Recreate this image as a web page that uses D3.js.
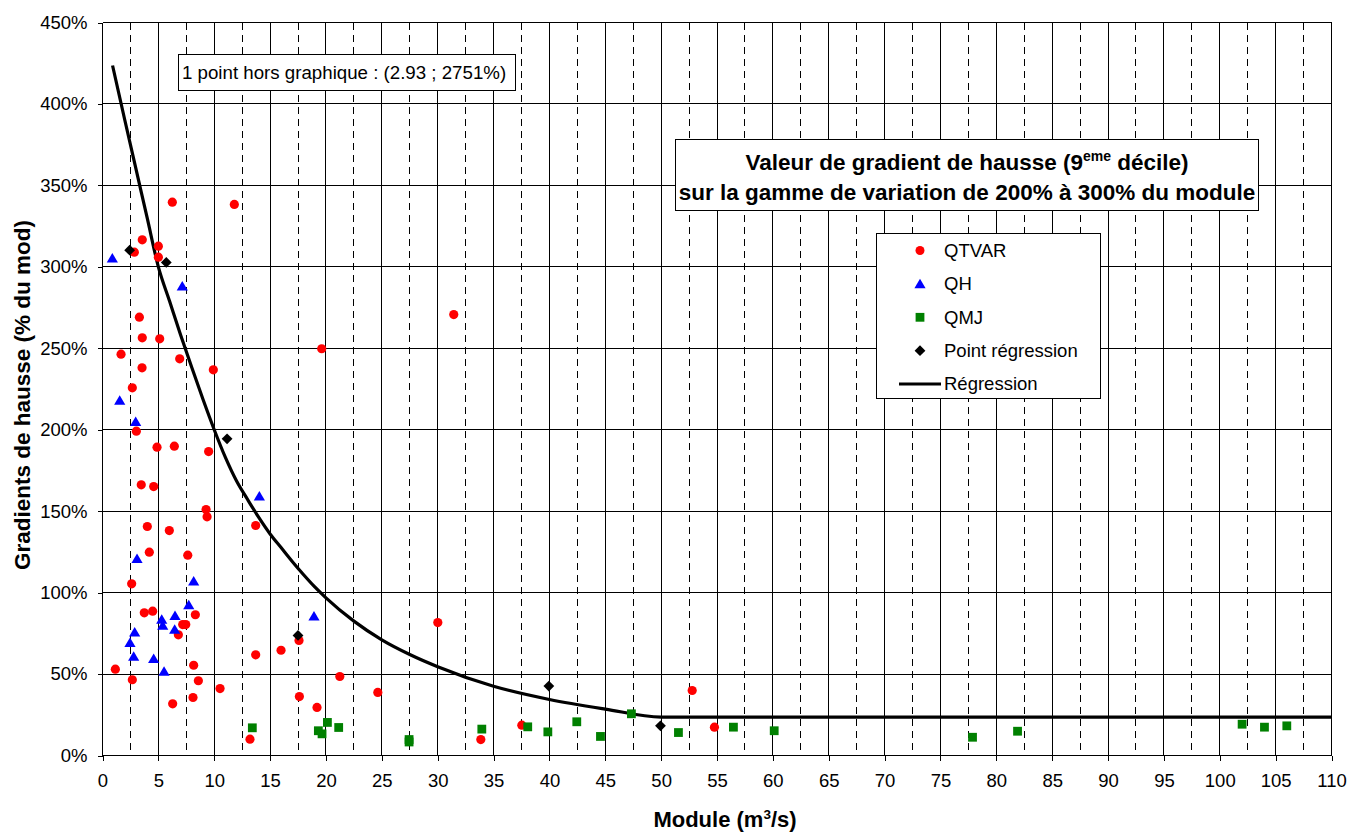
<!DOCTYPE html>
<html>
<head>
<meta charset="utf-8">
<script src="https://cdn.jsdelivr.net/npm/d3@7"></script>
<style>
  html, body { margin: 0; padding: 0; background: #fff; }
  svg { display: block; font-family: "Liberation Sans", Arial, sans-serif; }
</style>
</head>
<body>
<svg id="chart" width="1350" height="833"></svg>
<script>
// Module (m3/s) and gradient (% du module) for each flow source
const qtvarX = [6.25, 11.8, 3.56, 2.85, 5.0, 5.0, 3.3, 3.56, 5.12, 1.66, 6.91, 3.54, 9.92, 2.67, 3.03, 4.88, 6.43, 9.5,
  3.47, 4.58, 9.27, 9.36, 4.01, 5.98, 13.71, 4.19, 7.63, 2.61, 3.74, 4.49, 8.31, 7.18, 7.45, 6.79, 1.15, 2.67, 8.16,
  8.58, 10.52, 6.28, 8.1, 17.59, 15.98, 13.71, 17.62, 13.2, 31.44, 19.62, 30.01, 21.24, 24.64, 19.2, 33.86, 37.53,
  52.78, 54.77];
const qtvarY = [339.7, 338.3, 316.6, 309.0, 312.7, 305.9, 269.1, 256.4, 255.8, 246.4, 243.5, 238.0, 236.8, 225.7, 199.1,
  189.3, 189.9, 186.6, 166.2, 165.1, 151.0, 146.5, 140.6, 138.1, 141.2, 124.8, 123.0, 105.4, 87.6, 88.6, 86.4, 80.4,
  80.4, 74.1, 53.0, 46.5, 55.4, 45.9, 41.1, 31.7, 35.6, 70.6, 64.6, 61.8, 36.2, 10.0, 270.7, 249.7, 81.6, 48.5, 38.7,
  29.5, 9.8, 18.6, 39.9, 17.4];

const qhX = [0.88, 7.14, 1.54, 2.97, 14.04, 3.09, 8.16, 7.72, 18.93, 5.3, 5.39, 6.49, 6.46, 2.88, 2.46, 2.79, 4.58, 5.51];
const qhY = [305.3, 288.1, 217.9, 204.9, 159.2, 120.8, 107.0, 92.5, 85.5, 83.5, 79.8, 85.9, 77.4, 75.7, 69.2, 60.8, 59.4, 51.6];

const qmjX = [13.41, 19.32, 19.65, 20.13, 21.14, 27.44, 27.44, 33.95, 38.06, 39.86, 42.45, 44.57, 47.34, 51.55, 56.47,
  60.12, 77.87, 81.9, 102.0, 104.0, 106.0];
const qmjY = [17.0, 15.2, 13.3, 20.3, 17.2, 8.3, 9.8, 16.2, 17.6, 14.5, 20.7, 11.7, 25.6, 14.1, 17.4, 15.2, 11.2, 14.9,
  19.2, 17.4, 18.2];

const regPtX = [2.43, 5.71, 11.15, 17.5, 39.95, 49.94];
const regPtY = [310.2, 302.7, 194.4, 73.7, 42.6, 18.2];

// Fitted regression curve, plateau beyond 50 m3/s
const regX = [0.9, 2, 3, 4, 5, 6, 7, 8, 9, 10, 11, 12, 13, 14, 15, 16, 17, 18, 19, 20, 22.5, 25, 27.5, 30, 35, 40, 45, 50, 110];
const regY = [423.6, 390, 360, 330, 300, 279, 258, 238, 218.5, 200, 183, 168.5, 157, 146, 136, 127.5, 119, 111, 103.5, 96.8,
  82.5, 71, 62, 54.5, 42.5, 34.4, 28.5, 23.6, 23.6];

const xTicks = d3.range(0, 111, 5);
const xMinor = d3.range(2.5, 110, 5);
const yTicks = d3.range(0, 451, 50);

const legendLabels = ["QTVAR", "QH", "QMJ", "Point régression", "Régression"];

const svg = d3.select("#chart");
svg.append("rect").attr("width", 1350).attr("height", 833).attr("fill", "#fff");

const x = d3.scaleLinear().domain([0, 110]).range([102.5, 1331.5]);
const y = d3.scaleLinear().domain([0, 450]).range([755.5, 22.5]);

// Grid
const grid = svg.append("g").attr("shape-rendering", "crispEdges");
grid.selectAll(".vmin").data(xMinor).join("line")
  .attr("x1", d => x(d)).attr("x2", d => x(d)).attr("y1", y(450)).attr("y2", y(0))
  .attr("stroke", "#000").attr("stroke-width", 1).attr("stroke-dasharray", "7,5");
grid.selectAll(".vmaj").data(xTicks.slice(1)).join("line")
  .attr("x1", d => x(d)).attr("x2", d => x(d)).attr("y1", y(450)).attr("y2", y(0))
  .attr("stroke", "#000").attr("stroke-width", 1);
grid.selectAll(".hmaj").data(yTicks.slice(1)).join("line")
  .attr("x1", x(0)).attr("x2", x(110)).attr("y1", d => y(d)).attr("y2", d => y(d))
  .attr("stroke", "#000").attr("stroke-width", 1);

// Axes
const xAxis = d3.axisBottom(x).tickValues(xTicks).tickSize(5).tickPadding(13).tickFormat(d3.format("d"));
const yAxis = d3.axisLeft(y).tickValues(yTicks).tickSize(5).tickPadding(10).tickFormat(d => d + "%");

const gx = svg.append("g").attr("transform", `translate(0,${y(0)})`).call(xAxis);
const gy = svg.append("g").attr("transform", `translate(${x(0)},0)`).call(yAxis);
[gx, gy].forEach(g => {
  g.attr("shape-rendering", "crispEdges");
  g.select(".domain").attr("stroke", "#000");
  g.selectAll(".tick line").attr("stroke", "#000");
  g.selectAll(".tick text").attr("font-size", 18.5).attr("fill", "#000")
    .attr("font-family", "'Liberation Sans', Arial, sans-serif");
});
gx.select(".domain").attr("d", `M${x(0)},0H${x(110)}`);
gy.select(".domain").attr("d", `M0,${y(0)}V${y(450)}`);

// Axis titles
const xt = svg.append("text").attr("x", 725).attr("y", 827).attr("text-anchor", "middle")
  .attr("font-size", 22).attr("font-weight", "bold");
xt.append("tspan").text("Module (m");
xt.append("tspan").attr("font-size", 13.5).attr("dy", -8.5).text("3");
xt.append("tspan").attr("dy", 8.5).text("/s)");

svg.append("text").attr("transform", `translate(29.5,395) rotate(-90)`)
  .attr("text-anchor", "middle").attr("font-size", 22.5).attr("font-weight", "bold")
  .text("Gradients de hausse (% du mod)");

// Regression curve
const curve = d3.line().x(d => x(d[0])).y(d => y(d[1])).curve(d3.curveMonotoneX);
svg.append("path").datum(regX.map((v, i) => [v, regY[i]]))
  .attr("d", curve).attr("fill", "none").attr("stroke", "#000").attr("stroke-width", 3.2)
  .attr("stroke-linejoin", "round");

// Marker shapes
const triPath = "M0,-5.2L5.6,4.3L-5.6,4.3Z";
const sqPath = "M-4.4,-4.4H4.4V4.4H-4.4Z";
const diaPath = "M0,-5.4L5.4,0L0,5.4L-5.4,0Z";

const marks = svg.append("g");
marks.selectAll(".qtvar").data(qtvarX.map((v, i) => [v, qtvarY[i]])).join("circle")
  .attr("cx", d => x(d[0])).attr("cy", d => y(d[1])).attr("r", 4.6).attr("fill", "#ff0000");
marks.selectAll(".qh").data(qhX.map((v, i) => [v, qhY[i]])).join("path")
  .attr("transform", d => `translate(${x(d[0])},${y(d[1])})`).attr("d", triPath).attr("fill", "#0000ff");
marks.selectAll(".qmj").data(qmjX.map((v, i) => [v, qmjY[i]])).join("path")
  .attr("transform", d => `translate(${x(d[0])},${y(d[1])})`).attr("d", sqPath).attr("fill", "#008000");
marks.selectAll(".reg").data(regPtX.map((v, i) => [v, regPtY[i]])).join("path")
  .attr("transform", d => `translate(${x(d[0])},${y(d[1])})`).attr("d", diaPath).attr("fill", "#000");

// Off-chart point note
svg.append("rect").attr("x", 178.5).attr("y", 54.5).attr("width", 337).attr("height", 36)
  .attr("fill", "#fff").attr("stroke", "#000").attr("stroke-width", 1);
svg.append("text").attr("x", 182).attr("y", 79).attr("font-size", 18.7)
  .text("1 point hors graphique : (2.93 ; 2751%)");

// Title box
svg.append("rect").attr("x", 675.5).attr("y", 139.5).attr("width", 583).attr("height", 71)
  .attr("fill", "#fff").attr("stroke", "#000").attr("stroke-width", 1);
const t1 = svg.append("text").attr("x", 967).attr("y", 170).attr("text-anchor", "middle")
  .attr("font-size", 22.5).attr("font-weight", "bold");
t1.append("tspan").text("Valeur de gradient de hausse (9");
t1.append("tspan").attr("font-size", 14).attr("dy", -9).text("eme");
t1.append("tspan").attr("dy", 9).text(" décile)");
svg.append("text").attr("x", 967).attr("y", 200).attr("text-anchor", "middle")
  .attr("font-size", 22.5).attr("font-weight", "bold")
  .text("sur la gamme de variation de 200% à 300% du module");

// Legend
const lg = svg.append("g");
lg.append("rect").attr("x", 876.5).attr("y", 233.5).attr("width", 224).attr("height", 165)
  .attr("fill", "#fff").attr("stroke", "#000").attr("stroke-width", 1);
const rowY = [250.5, 284, 317.3, 350.7, 384];
const shapes = [null, triPath, sqPath, diaPath];
const colors = ["#ff0000", "#0000ff", "#008000", "#000"];
legendLabels.forEach((lab, i) => {
  const cy = rowY[i];
  if (i === 0) {
    lg.append("circle").attr("cx", 920).attr("cy", cy).attr("r", 4.5).attr("fill", colors[0]);
  } else if (i < 4) {
    lg.append("path").attr("transform", `translate(920,${cy})`).attr("d", shapes[i])
      .attr("fill", colors[i]);
  } else {
    lg.append("line").attr("x1", 899).attr("x2", 941).attr("y1", cy).attr("y2", cy)
      .attr("stroke", "#000").attr("stroke-width", 3.2);
  }
  lg.append("text").attr("x", 944).attr("y", cy).attr("dy", "0.35em").attr("font-size", 18.5).text(lab);
});
</script>
</body>
</html>
